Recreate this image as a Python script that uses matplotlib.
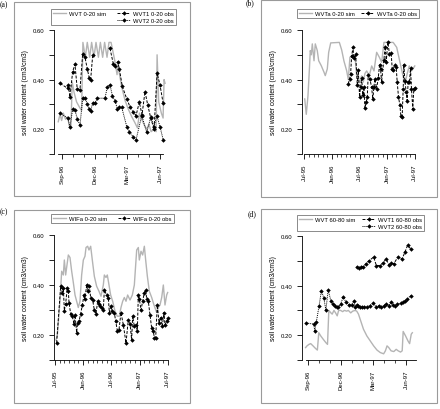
import matplotlib
matplotlib.use("Agg")
import matplotlib.pyplot as plt
from matplotlib.lines import Line2D
from matplotlib.patches import Rectangle

plt.rcParams['font.family'] = ['Liberation Sans', 'DejaVu Sans']
nan = float("nan")

# time axis: months since 1 Jan 1996

# (a) WVT 0-20
a_sim_t = [7.66, 7.82, 7.97, 8.12, 8.33, 8.52, 8.67, 8.82, 8.94, 9.10, 9.34, 9.59, 9.80, 9.92,
           10.14, 10.32, 10.54, 10.72, 10.93, 11.12, 11.34, 11.52, 11.73, 11.91, 12.13, 12.31,
           12.50, 12.87, 13.05, 13.12, 13.48, 13.79, 14.09, 14.40, 14.70, 14.92, 15.10, 15.31,
           15.56, 15.77, 15.98, 16.17, 16.44, 16.63, 16.72, 16.87, 17.11, 17.27, 17.36, 17.45]
a_sim_v = [0.23, 0.26, 0.235, 0.265, 0.24, 0.25, 0.215, 0.205, 0.39, 0.35, 0.31, 0.29, 0.275, 0.55,
           0.49, 0.55, 0.49, 0.55, 0.49, 0.55, 0.49, 0.55, 0.49, 0.55, 0.49, 0.55,
           0.55, 0.47, 0.42, 0.46, 0.37, 0.315, 0.28, 0.25, 0.225, 0.205, 0.265, 0.24,
           0.215, 0.20, 0.22, 0.19, 0.20, 0.19, 0.50, 0.31, 0.265, 0.245, 0.40, 0.385]
# nan = no reading between Dec-96 and Jan-97
a_obs1_t = [7.82, 8.52, 8.58, 8.73, 8.98, 9.19, 9.40, 9.65, 9.90, 10.11, 10.32, 10.50, 10.63, 10.82,
            11.60, 12.40, 12.71, 12.86, 13.11, 13.26, 13.53, 13.94, 14.24, 14.54, 14.79, 15.09, 15.34,
            15.61, 15.86, 16.14, 16.44, 16.72, 16.99, 17.27]
a_obs1_v = [0.385, 0.365, 0.38, 0.33, 0.432, 0.462, 0.362, 0.36, 0.503, 0.49, 0.443, 0.407, 0.40, 0.50,
            nan, 0.526, 0.463, 0.456, 0.472, 0.443, 0.373, 0.322, 0.29, 0.268, 0.255, 0.309, 0.258,
            0.352, 0.298, 0.245, 0.20, 0.425, 0.378, 0.305]
a_obs2_t = [7.82, 8.52, 8.73, 8.98, 9.19, 9.40, 9.65, 9.90, 10.14, 10.32, 10.50, 10.63, 10.82, 11.03,
            11.24, 11.94, 12.16, 12.40, 12.63, 12.86, 13.08, 13.26, 13.48, 13.94, 14.18, 14.54,
            14.79, 15.31, 15.77, 16.14, 16.44, 16.69, 16.99, 17.29]
a_obs2_v = [0.265, 0.245, 0.21, 0.28, 0.277, 0.243, 0.215, 0.325, 0.325, 0.30, 0.282, 0.275, 0.305, 0.305,
            0.325, 0.325, 0.37, 0.38, 0.333, 0.315, 0.282, 0.288, 0.288, 0.21, 0.19, 0.168,
            0.157, 0.255, 0.188, 0.248, 0.21, 0.255, 0.21, 0.155]

# (b) WVTa 0-20
b_sim_t = [-5.93, -5.59, -5.22, -4.89, -4.72, -4.50, -4.28, -3.91, -3.63, -3.20, -2.89, -2.33, -1.74,
           -1.46, -1.02, -0.72, -0.28, 1.60, 2.10, 2.60, 3.20, 3.55, 3.90, 4.50, 5.00, 5.37, 5.94,
           6.45, 6.80, 7.17, 7.54, 8.10, 8.63, 9.13, 9.71, 10.30, 10.80, 11.30, 13.30, 14.07,
           14.78, 15.50, 15.87, 16.37, 16.80, 17.30, 18.00]
b_sim_v = [0.322, 0.26, 0.335, 0.45, 0.517, 0.50, 0.544, 0.476, 0.544, 0.517, 0.476, 0.456, 0.43,
           0.416, 0.443, 0.51, 0.548, 0.55, 0.52, 0.475, 0.435, 0.40, 0.49, 0.50, 0.495, 0.415, 0.39,
           0.415, 0.39, 0.425, 0.435, 0.415, 0.455, 0.435, 0.51, 0.49, 0.47, 0.55, 0.55, 0.53,
           0.47, 0.41, 0.385, 0.425, 0.455, 0.435, 0.455]
b_obs_t = [3.54, 3.83, 4.05, 4.27, 4.56, 4.77, 5.14, 5.50, 5.71, 6.00, 6.20, 6.44, 6.73, 6.94,
           7.16, 7.45, 7.67, 7.88, 8.24, 8.60, 8.90, 9.10, 9.33, 9.70, 10.05, 10.34, 10.56, 10.78,
           11.28, 11.57, 11.79, 12.15, 12.50, 12.87, 13.09, 13.30, 13.60, 13.96, 14.17, 14.46,
           14.75, 14.97, 15.26, 15.48, 15.62, 15.84, 16.13, 16.34, 16.56, 16.85, 17.07, 17.28,
           17.57, 17.79, 18.08]
b_obs_v = [0.383, 0.403, 0.423, 0.494, 0.53, 0.486, 0.503, 0.378, 0.44, 0.33, 0.37, 0.405, 0.338, 0.37,
           0.285, 0.31, 0.33, 0.42, 0.403, 0.37, 0.32, 0.37, 0.403, 0.363, 0.405, 0.46, 0.443, 0.39,
           0.48, 0.533, 0.472, 0.55, 0.503, 0.507, 0.443, 0.44, 0.46, 0.45, 0.392, 0.33,
           0.298, 0.255, 0.25, 0.363, 0.46, 0.396, 0.35, 0.315, 0.39, 0.39, 0.445, 0.363,
           0.28, 0.363, 0.365]

# (c) WIFa 0-20
c_sim_t = [-5.79, -5.50, -4.94, -4.58, -4.23, -4.01, -3.73, -3.52, -3.16, -2.81, -2.45, -2.10, -1.74,
           -1.39, -1.04, -0.68, -0.33, 0.03, 0.38, 0.60, 0.95, 1.23, 1.59, 1.94, 2.37, 2.86, 3.36,
           3.79, 4.28, 4.50, 4.85, 5.13, 5.49, 5.84, 6.27, 6.77, 7.26, 7.69, 8.04, 8.40, 8.75,
           9.11, 9.46, 9.96, 10.45, 10.88, 11.38, 11.73, 11.94, 12.30, 12.65, 13.01, 13.29,
           13.65, 14.07, 14.57, 15.06, 15.63, 15.99, 16.34, 16.70, 17.05, 17.40, 17.76, 17.97]
c_sim_v = [0.18, 0.20, 0.335, 0.455, 0.44, 0.50, 0.44, 0.47, 0.52, 0.51, 0.455, 0.41, 0.36,
           0.335, 0.31, 0.335, 0.44, 0.50, 0.515, 0.55, 0.555, 0.54, 0.555, 0.50, 0.435, 0.395, 0.375,
           0.355, 0.40, 0.44, 0.43, 0.44, 0.40, 0.36, 0.335, 0.295, 0.275, 0.275, 0.31, 0.335, 0.35,
           0.335, 0.36, 0.34, 0.36, 0.40, 0.54, 0.55, 0.50, 0.535, 0.52, 0.555, 0.50,
           0.435, 0.375, 0.35, 0.32, 0.29, 0.31, 0.32, 0.35, 0.40, 0.32, 0.36, 0.37]
c_obs_t = [-5.65, -4.79, -4.44, -4.23, -4.01, -3.73, -3.38, -3.16, -3.02, -2.67, -2.31, -1.96, -1.74,
           -1.39, -1.18, -0.89, -0.54, -0.18, 0.17, 0.38, 0.74, 0.95, 1.30, 1.59, 2.01, 2.37, 2.72,
           3.08, 3.36, 3.57, 3.93, 4.28, 4.50, 4.99, 5.35, 5.56, 5.91, 6.20, 6.62, 6.91, 7.26,
           7.62, 8.04, 8.54, 9.11, 9.60, 9.96, 10.31, 10.52, 10.88, 11.16, 11.52, 11.73, 11.94,
           12.30, 12.65, 13.01, 13.29, 13.50, 13.86, 14.21, 14.57, 14.92, 15.13, 15.42, 15.77,
           16.13, 16.48, 16.84, 17.19, 17.40, 17.76, 18.11]
c_obs_v = [0.168, 0.395, 0.37, 0.39, 0.298, 0.325, 0.39, 0.375, 0.33, 0.285, 0.275, 0.245, 0.28,
           0.21, 0.25, 0.255, 0.285, 0.32, 0.36, 0.345, 0.40, 0.375, 0.395, 0.35, 0.34, 0.30, 0.285,
           0.335, 0.325, 0.315, 0.31, 0.30, 0.38, 0.36, 0.35, 0.29, 0.315, 0.295, 0.29, 0.255, 0.218,
           0.222, 0.29, 0.24, 0.168, 0.262, 0.245, 0.18, 0.275, 0.235, 0.24, 0.218, 0.36, 0.345,
           0.30, 0.335, 0.37, 0.38, 0.345, 0.335, 0.28, 0.228, 0.215, 0.19, 0.19, 0.32,
           0.25, 0.27, 0.235, 0.29, 0.24, 0.255, 0.27]

# (d) WVT 60-80
d_sim_t = [7.78, 7.91, 8.09, 8.25, 8.46, 8.68, 8.86, 8.99, 9.17, 9.39, 9.64, 9.79, 9.91, 10.10,
           10.22, 10.38, 10.53, 10.68, 10.81, 10.99, 11.18, 11.33, 11.55, 11.70, 11.92, 12.10,
           12.32, 12.47, 12.63, 12.78, 13.09, 13.40, 13.71, 14.02, 14.33, 14.63, 14.94, 15.10,
           15.25, 15.41, 15.62, 15.87, 16.09, 16.27, 16.49, 16.64, 16.73, 16.95, 17.17, 17.32,
           17.47, 17.57]
d_sim_v = [0.15, 0.157, 0.163, 0.166, 0.157, 0.147, 0.14, 0.21, 0.197, 0.184, 0.17, 0.163, 0.30, 0.29,
           0.285, 0.30, 0.29, 0.278, 0.30, 0.30, 0.295, 0.30, 0.297, 0.30, 0.29, 0.297,
           0.30, 0.297, 0.285, 0.265, 0.224, 0.197, 0.177, 0.157, 0.14, 0.13, 0.125, 0.137,
           0.157, 0.15, 0.137, 0.134, 0.143, 0.137, 0.132, 0.137, 0.215, 0.197, 0.177, 0.166,
           0.204, 0.21]
d_obs1_t = [12.47, 12.69, 12.88, 13.09, 13.31, 13.56, 14.02, 14.27, 14.57, 14.85, 15.16, 15.41,
            15.62, 15.87, 16.24, 16.64, 16.89, 17.13, 17.41]
d_obs1_v = [0.477, 0.472, 0.474, 0.477, 0.488, 0.499, 0.515, 0.481, 0.481, 0.49, 0.508, 0.484,
            0.49, 0.488, 0.515, 0.508, 0.535, 0.562, 0.549]
d_obs2_t = [7.85, 8.52, 8.62, 8.77, 9.02, 9.23, 9.45, 9.64, 9.85, 10.10, 10.31, 10.47, 10.62, 10.78,
            10.99, 11.24, 11.49, 11.77, 12.01, 12.23, 12.32, 12.47, 12.63, 12.78, 12.94, 13.15,
            13.40, 13.65, 13.96, 14.23, 14.48, 14.70, 14.94, 15.16, 15.41, 15.62, 15.81, 15.96,
            16.18, 16.49, 16.73, 16.89, 17.10, 17.41]
d_obs2_v = [0.249, 0.245, 0.218, 0.255, 0.319, 0.38, 0.35, 0.301, 0.382, 0.339, 0.326, 0.316, 0.312, 0.312,
            0.326, 0.355, 0.332, 0.323, 0.323, 0.339, 0.315, 0.322, 0.319, 0.315, 0.312, 0.312,
            0.315, 0.319, 0.328, 0.315, 0.319, 0.312, 0.319, 0.326, 0.319, 0.332, 0.323, 0.319,
            0.326, 0.328, 0.332, 0.339, 0.345, 0.36]

q_ticks = [8, 11, 14, 17]
q_labels = ["Sep-96", "Dec-96", "Mar-97", "Jun-97"]
h_ticks = [-6, 0, 6, 12, 18]
h_labels = ["Jul-95", "Jan-96", "Jul-96", "Jan-97", "Jul-97"]

W, H = 440, 410
SIM = "#b4b4b4"
fig = plt.figure(figsize=(W / 100, H / 100), dpi=100)


def px(l, t, r, b):
    return [l / W, 1 - b / H, (r - l) / W, (b - t) / H]


# panel frames and labels
for (l, t, r, b), lab, lx, ly in [((14, 3, 190, 197), "(a)", 0, 5),
                                  ((261, 1, 437, 198), "(b)", 246, 3),
                                  ((14, 211, 190, 404), "(c)", 0, 212),
                                  ((261, 210, 437, 404), "(d)", 248, 214)]:
    fig.add_artist(Rectangle((l / W, 1 - b / H), (r - l) / W, (b - t) / H,
                             transform=fig.transFigure, fill=False, ec="#9a9a9a", lw=0.8))
    fig.text(lx / W, 1 - ly / H, lab, fontsize=5.5, family="Liberation Serif", va="center")


def style(ax, xlim, xb, ticks, labels, minor):
    ax.set_xlim(*xlim)
    ax.set_ylim(0.1, 0.6)
    for s in ["top", "right"]:
        ax.spines[s].set_visible(False)
    ax.spines["left"].set_bounds(0.1, 0.6)
    ax.spines["bottom"].set_bounds(*xb)
    for s in ["left", "bottom"]:
        ax.spines[s].set_linewidth(0.6)
    ax.set_yticks([0.2, 0.4, 0.6])
    ax.set_yticklabels(["0.20", "0.40", "0.60"])
    ax.set_yticks([0.1, 0.3, 0.5], minor=True)
    ax.set_xticks(ticks)
    ax.set_xticklabels(labels, rotation=90)
    ax.set_xticks(minor, minor=True)
    ax.tick_params(axis="both", which="major", length=3.3, width=0.6, labelsize=4.3, pad=3.5)
    ax.tick_params(axis="y", which="minor", length=3.3, width=0.6)
    ax.tick_params(axis="x", which="minor", length=1.8, width=0.5)
    ax.set_ylabel("soil water content (cm3/cm3)", fontsize=4.8, labelpad=3)
    ax.patch.set_alpha(0)


def legend(ax, handles, labels, box):
    l, t, r, b = box
    lg = ax.legend(handles, labels, ncol=2, loc="upper left", mode="expand",
                   bbox_to_anchor=(l / W, 1 - t / H, (r - l) / W, 0), bbox_transform=fig.transFigure,
                   fontsize=4.2, frameon=True, fancybox=False, edgecolor="#555555",
                   handlelength=2.2, handletextpad=0.5, borderpad=0.35, labelspacing=0.25,
                   columnspacing=1.0, borderaxespad=0)
    lg.get_frame().set_linewidth(0.6)


def obs_line(ax, t, v, ls):
    return ax.plot(t, v, color="black", ls=ls, lw=0.7, marker="D", ms=2.3, mew=0)[0]


blank = Line2D([], [], color="none")

# (a)
ax = fig.add_axes(px(54, 31, 168, 155))
s = ax.plot(a_sim_t, a_sim_v, color=SIM, lw=1.0)[0]
o1 = obs_line(ax, a_obs1_t, a_obs1_v, (0, (3, 1.5)))
o2 = obs_line(ax, a_obs2_t, a_obs2_v, (0, (1, 1)))
style(ax, (7.27, 17.72), (7.6, 17.3), q_ticks, q_labels, list(range(8, 18)))
legend(ax, [s, blank, o1, o2], ["WVT 0-20 sim", "", "WVT1 0-20 obs", "WVT2 0-20 obs"], (51, 10, 176, 27))

# (b)
ax = fig.add_axes(px(302, 31, 418, 155))
s = ax.plot(b_sim_t, b_sim_v, color=SIM, lw=1.0)[0]
o = obs_line(ax, b_obs_t, b_obs_v, (0, (3, 1.5)))
style(ax, (-6.52, 18.7), (-6.1, 18.1), h_ticks, h_labels, list(range(-6, 19)))
legend(ax, [s, o], ["WVTa 0-20 sim", "WVTa 0-20 obs"], (297, 10, 419, 23))

# (c)
ax = fig.add_axes(px(54, 236, 171, 361))
s = ax.plot(c_sim_t, c_sim_v, color=SIM, lw=1.0)[0]
o = obs_line(ax, c_obs_t, c_obs_v, (0, (3, 1.5)))
style(ax, (-6.21, 18.68), (-6.0, 18.1), h_ticks, h_labels, list(range(-6, 19)))
legend(ax, [s, o], ["WIFa 0-20 sim", "WIFa 0-20 obs"], (51, 215, 174, 227))

# (d)
ax = fig.add_axes(px(302, 237, 418, 361))
s = ax.plot(d_sim_t, d_sim_v, color=SIM, lw=1.0)[0]
o1 = obs_line(ax, d_obs1_t, d_obs1_v, (0, (3, 1.5)))
o2 = obs_line(ax, d_obs2_t, d_obs2_v, (0, (1, 1)))
style(ax, (7.45, 18.09), (7.8, 17.9), q_ticks, q_labels, list(range(8, 18)))
legend(ax, [s, blank, o1, o2], ["WVT 60-80 sim", "", "WVT1 60-80 obs", "WVT2 60-80 obs"], (297, 216, 424, 232))

fig.savefig("out.png", dpi=100)
